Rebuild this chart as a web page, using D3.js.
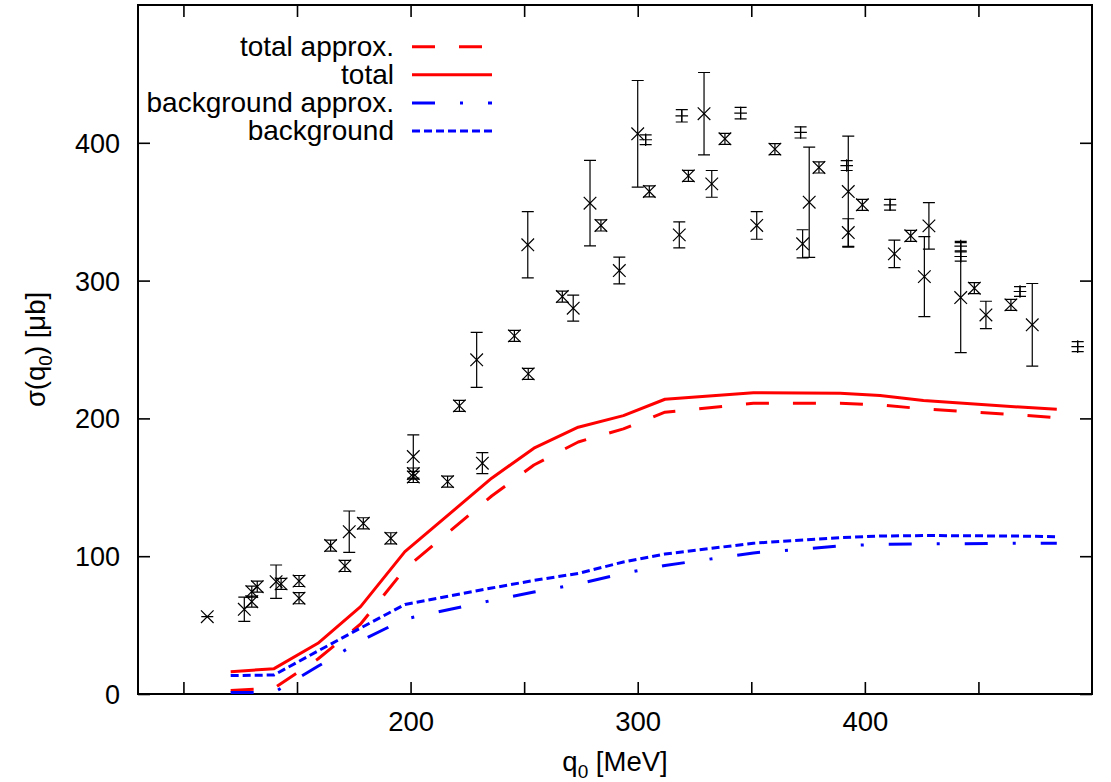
<!DOCTYPE html>
<html>
<head>
<meta charset="utf-8">
<script src="https://d3js.org/d3.v7.min.js"></script>
<style>
  body { margin: 0; background: #fff; }
  svg { display: block; }
  text { font-family: "Liberation Sans", Arial, sans-serif; fill: #000; }
</style>
</head>
<body>
<div id="chart"></div>
<script>
// energy grid of the calculated curves [MeV]
var curveQ      = [120.8, 139.9, 159.2, 178.0, 197.5, 235.7, 254.3, 273.8, 293.7, 312.0, 350.9, 389.1, 406.7, 425.8, 468.3, 484.5];
var totalCurve  = [16.2, 18.4, 36.8, 63.4, 103.3, 156.6, 178.4, 193.6, 202.0, 213.9, 218.7, 218.3, 216.6, 213.0, 208.2, 206.7];
var totalApprox = [2.6, 4.1, 25.4, 50.8, 90.7, 143.7, 166.2, 182.9, 192.4, 204.5, 211.0, 211.0, 209.8, 206.9, 202.5, 200.5];
var bgCurve     = [13.4, 13.8, 31.2, 47.9, 65.0, 76.9, 82.4, 87.5, 95.8, 101.6, 109.4, 113.4, 114.6, 115.0, 114.6, 114.1];
var bgApprox    = [1.1, 1.2, 20.1, 38.5, 54.4, 67.9, 74.0, 79.9, 87.5, 93.3, 102.4, 107.4, 108.7, 108.9, 109.4, 109.4];

// measured points drawn with x markers
var crossQ   = [110.5, 126.8, 130.1, 130.1, 132.5, 140.8, 143.0, 150.9, 150.9, 164.8, 171.1, 173.0, 179.2, 191.3, 201.2, 201.2, 201.2,
                216.3, 221.5, 229.1, 231.6, 245.7, 251.8, 251.6, 266.8, 271.6, 279.0, 283.8, 291.9, 300.0, 305.1, 318.3, 322.3,
                329.2, 332.6, 338.4, 352.4, 360.4, 372.6, 375.5, 379.8, 392.7, 392.7, 398.9, 413.0, 420.2, 426.2, 428.2, 442.2,
                448.2, 453.3, 464.3, 473.7];
var crossSig = [56.1, 61.5, 67.0, 74.3, 77.9, 81.5, 79.9, 82.0, 69.5, 107.7, 92.9, 117.8, 123.9, 113.0, 172.3, 157.5, 160.0,
                154.1, 209.1, 242.5, 167.5, 259.9, 232.3, 326.0, 288.4, 280.0, 356.2, 340.0, 307.3, 406.5, 364.7, 333.2, 376.0,
                421.1, 370.2, 402.9, 340.0, 395.4, 326.7, 356.9, 382.1, 364.6, 334.9, 355.0, 319.4, 332.5, 302.9, 339.7, 287.7,
                294.5, 275.1, 282.4, 267.9];
var crossErr = [0, 8.8, 4, 4, 4, 12.1, 4, 4, 4, 4, 4, 15.0, 4, 4, 15.7, 4, 4,
                4, 4, 20.0, 7.6, 4, 4, 24.0, 4, 9.4, 31.0, 4, 9.7, 38.7, 4, 9.4, 4,
                29.9, 9.7, 4, 10.0, 4, 10.2, 40.0, 4, 40.3, 10.0, 4, 10.0, 4, 29.0, 16.9, 39.9,
                4, 9.9, 4, 30.0];

// measured points drawn with + markers
var plusQ   = [303.5, 319.4, 345.3, 371.7, 392.0, 411.1, 442.2, 442.2, 468.3, 493.7];
var plusSig = [402.2, 419.6, 421.5, 407.5, 383.5, 355.0, 325.0, 317.5, 292.1, 252.1];
var plusErr = [3.5, 4.5, 4.2, 4.0, 3.6, 3.9, 3.4, 3.4, 3.6, 3.6];

var xTicks = [100, 150, 200, 250, 300, 350, 400, 450];
var xLabels = [200, 300, 400];
var yTicks = [0, 100, 200, 300, 400];

var W = 1111, H = 782;
var L = 138, R = 1092, T = 5, B = 694;

var svg = d3.select("#chart").append("svg").attr("width", W).attr("height", H);
svg.append("rect").attr("width", W).attr("height", H).attr("fill", "#fff");

var x = d3.scaleLinear().domain([80, 500]).range([L, R]);
var y = d3.scaleLinear().domain([0, 500]).range([B, T]);

// axes, ticks pointing inwards on all four sides
function styleAxis(g) {
  g.select(".domain").remove();
  g.selectAll(".tick line").attr("stroke", "#000").attr("stroke-width", 1.6);
}
svg.append("g").attr("transform", "translate(0," + B + ")")
  .call(d3.axisBottom(x).tickValues(xTicks).tickSize(-12).tickFormat(function (d) { return xLabels.indexOf(d) >= 0 ? d : ""; }))
  .call(styleAxis)
  .call(function (g) { g.selectAll(".tick text").attr("y", 37).attr("dy", 0).style("font-size", "27.5px"); });
svg.append("g").attr("transform", "translate(0," + T + ")")
  .call(d3.axisTop(x).tickValues(xTicks).tickSize(-12).tickFormat(""))
  .call(styleAxis);
svg.append("g").attr("transform", "translate(" + L + ",0)")
  .call(d3.axisLeft(y).tickValues(yTicks).tickSize(-12))
  .call(styleAxis)
  .call(function (g) { g.selectAll(".tick text").attr("x", -18).attr("dy", "0.35em").style("font-size", "27px"); });
svg.append("g").attr("transform", "translate(" + R + ",0)")
  .call(d3.axisRight(y).tickValues(yTicks).tickSize(-12).tickFormat(""))
  .call(styleAxis);
svg.selectAll(".tick text").attr("fill", "#000").style("font-family", "Liberation Sans, Arial, sans-serif");

svg.append("rect").attr("x", L).attr("y", T).attr("width", R - L).attr("height", B - T)
  .attr("fill", "none").attr("stroke", "#000").attr("stroke-width", 2);

// axis titles
var xt = svg.append("text").attr("x", (L + R) / 2).attr("y", 771).attr("text-anchor", "middle").style("font-size", "27.5px");
xt.append("tspan").text("q");
xt.append("tspan").attr("dy", 7).style("font-size", "19px").text("0");
xt.append("tspan").attr("dy", -7).text(" [MeV]");

var yt = svg.append("text").attr("transform", "translate(45," + (T + B) / 2 + ") rotate(-90)")
  .attr("text-anchor", "middle").style("font-size", "27.5px");
yt.append("tspan").text("σ(q");
yt.append("tspan").attr("dy", 7).style("font-size", "19px").text("0");
yt.append("tspan").attr("dy", -7).text(") [μb]");

// data points with error bars
var cap = 6, mk = 6.3;
function drawPoints(qs, sig, err, kind) {
  var pts = qs.map(function (q, i) { return { q: q, s: sig[i], e: err[i] }; });
  var g = svg.append("g").attr("stroke", "#000").attr("stroke-width", 1.2).attr("fill", "none");
  var p = g.selectAll("g").data(pts).enter().append("g");
  p.append("path").attr("d", function (d) {
    var px = x(d.q), lo = y(d.s - d.e), hi = y(d.s + d.e);
    return "M" + px + "," + lo + "V" + hi +
      "M" + (px - cap) + "," + lo + "H" + (px + cap) +
      "M" + (px - cap) + "," + hi + "H" + (px + cap);
  });
  p.append("path").attr("d", function (d) {
    var px = x(d.q), py = y(d.s);
    if (kind === "x") {
      return "M" + (px - mk) + "," + (py - mk) + "L" + (px + mk) + "," + (py + mk) +
        "M" + (px - mk) + "," + (py + mk) + "L" + (px + mk) + "," + (py - mk);
    }
    return "M" + (px - mk) + "," + py + "H" + (px + mk) + "M" + px + "," + (py - mk) + "V" + (py + mk);
  });
}
drawPoints(crossQ, crossSig, crossErr, "x");
drawPoints(plusQ, plusSig, plusErr, "+");

// model curves
var line = d3.line().x(function (d) { return x(d[0]); }).y(function (d) { return y(d[1]); });
var series = [
  { name: "total approx.",      vals: totalApprox, color: "#ff0000", dash: "23,24" },
  { name: "total",              vals: totalCurve,  color: "#ff0000", dash: null },
  { name: "background approx.", vals: bgApprox,    color: "#0000ff", dash: "23,25,3,25" },
  { name: "background",         vals: bgCurve,     color: "#0000ff", dash: "8,4" }
];
series.forEach(function (s) {
  svg.append("path")
    .datum(curveQ.map(function (q, i) { return [q, s.vals[i]]; }))
    .attr("d", line)
    .attr("fill", "none").attr("stroke", s.color).attr("stroke-width", 3)
    .attr("stroke-dasharray", s.dash).attr("stroke-linejoin", "round");
});

// key
var key = svg.append("g");
series.forEach(function (s, i) {
  var ly = 46.7 + i * 28.1;
  key.append("text").attr("x", 394).attr("y", ly + 9).attr("text-anchor", "end")
    .style("font-size", "28px").text(s.name);
  key.append("line").attr("x1", 412).attr("x2", 492).attr("y1", ly).attr("y2", ly)
    .attr("stroke", s.color).attr("stroke-width", 3).attr("stroke-dasharray", s.dash);
});
</script>
</body>
</html>
